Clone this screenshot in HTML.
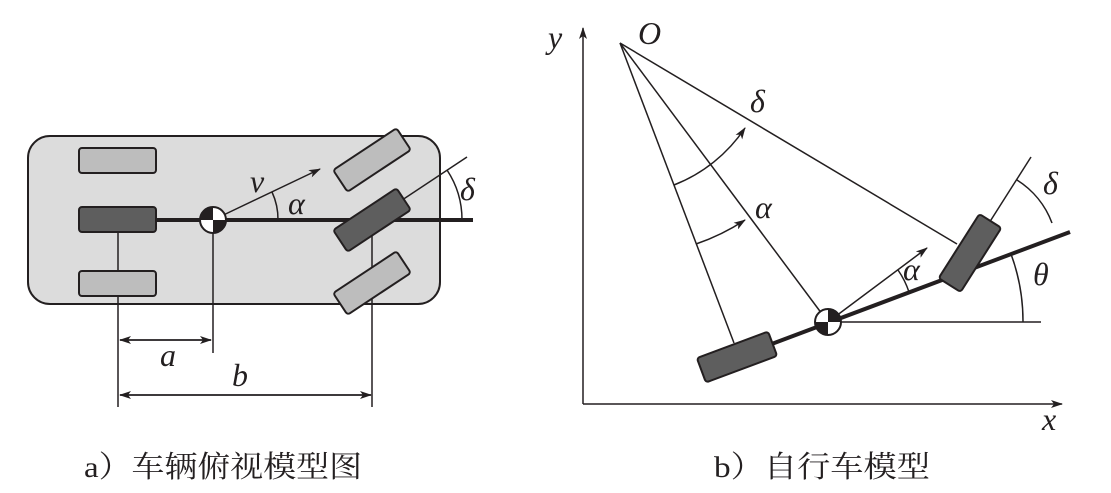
<!DOCTYPE html>
<html><head><meta charset="utf-8"><style>html,body{margin:0;padding:0;background:#fff}svg{display:block}</style></head>
<body>
<svg width="1111" height="493" viewBox="0 0 1111 493" xmlns="http://www.w3.org/2000/svg">
<defs>
<marker id="ar" markerWidth="12" markerHeight="8" refX="11" refY="4" orient="auto" markerUnits="userSpaceOnUse">
<path d="M0,0 L12,4 L0,8 L3,4 Z" fill="#231f20"/></marker>
</defs>
<g stroke="#231f20" fill="none" stroke-width="1.5">
<!-- LEFT -->
<rect x="28" y="136" width="412" height="168" rx="22" fill="#dcdcdc" stroke-width="2"/>
<line x1="118" y1="232" x2="118" y2="407"/>
<line x1="213" y1="220" x2="213" y2="353"/>
<line x1="372" y1="220" x2="372" y2="407"/>
<rect x="79" y="148" width="77" height="25" rx="3" fill="#bdbdbd" stroke-width="2"/>
<rect x="79" y="271" width="77" height="25" rx="3" fill="#bdbdbd" stroke-width="2"/>
<line x1="156" y1="220" x2="473" y2="220" stroke-width="4"/>
<line x1="372" y1="220" x2="467" y2="157"/>
<rect x="79" y="207" width="77" height="25" rx="3" fill="#5e5e5e" stroke-width="2"/>
<g transform="translate(372,160) rotate(-33.5)"><rect x="-38" y="-13" width="76" height="26" rx="3" fill="#bdbdbd" stroke-width="2"/></g>
<g transform="translate(372,283) rotate(-33.5)"><rect x="-38" y="-13" width="76" height="26" rx="3" fill="#bdbdbd" stroke-width="2"/></g>
<g transform="translate(372,220) rotate(-33.5)"><rect x="-38" y="-13" width="76" height="26" rx="3" fill="#5e5e5e" stroke-width="2"/></g>
<line x1="213" y1="220" x2="320" y2="169" marker-end="url(#ar)"/>
<path d="M278,220 A65,65 0 0 0 272,192"/>
<path d="M462,220 A90,90 0 0 0 447,170"/>
<circle cx="213" cy="220" r="13" fill="#fff" stroke-width="2"/>
<path d="M213,220 L213,207 A13,13 0 0 0 200,220 Z M213,220 L226,220 A13,13 0 0 1 213,233 Z" fill="#231f20" stroke="none"/>
<line x1="120" y1="340" x2="211" y2="340" marker-end="url(#ar)"/>
<line x1="211" y1="340" x2="120" y2="340" marker-end="url(#ar)"/>
<line x1="120" y1="395" x2="371" y2="395" marker-end="url(#ar)"/>
<line x1="371" y1="395" x2="120" y2="395" marker-end="url(#ar)"/>
<!-- RIGHT -->
<line x1="583" y1="404" x2="583" y2="28" marker-end="url(#ar)"/>
<line x1="583" y1="404" x2="1062" y2="404" marker-end="url(#ar)"/>
<line x1="620" y1="43" x2="734" y2="343"/>
<line x1="620" y1="43" x2="828" y2="322"/>
<line x1="620" y1="43" x2="957" y2="244"/>
<line x1="828" y1="322" x2="1041" y2="322"/>
<line x1="737" y1="357" x2="1070" y2="232" stroke-width="4"/>
<line x1="970" y1="253" x2="1031" y2="157"/>
<path d="M674,185 A152,152 0 0 0 745,128" marker-end="url(#ar)"/>
<path d="M696,244 A215,215 0 0 0 745,220" marker-end="url(#ar)"/>
<path d="M1023,322 A195,195 0 0 0 1011,254"/>
<path d="M909,292 A87,87 0 0 0 898,270"/>
<path d="M1052,223 A87,87 0 0 0 1017,180"/>
<line x1="828" y1="322" x2="927" y2="248" marker-end="url(#ar)"/>
<g transform="translate(737,357) rotate(-20.4)"><rect x="-38" y="-13" width="76" height="26" rx="3" fill="#5e5e5e" stroke-width="2"/></g>
<g transform="translate(970,253) rotate(-57.6)"><rect x="-38" y="-13" width="76" height="26" rx="3" fill="#5e5e5e" stroke-width="2"/></g>
<circle cx="828" cy="322" r="13" fill="#fff" stroke-width="2"/>
<path d="M828,322 L828,309 A13,13 0 0 1 841,322 Z M828,322 L815,322 A13,13 0 0 0 828,335 Z" fill="#231f20" stroke="none"/>
</g>
<g font-family="Liberation Serif, serif" font-style="italic" fill="#231f20" font-size="32">
<text x="250" y="192">v</text>
<text x="288" y="214">α</text>
<text x="460" y="200">δ</text>
<text x="160" y="366">a</text>
<text x="232" y="386">b</text>
<text x="548" y="48">y</text>
<text x="638" y="44">O</text>
<text x="1042" y="430">x</text>
<text x="750" y="112">δ</text>
<text x="755" y="218">α</text>
<text x="903" y="280">α</text>
<text x="1043" y="194">δ</text>
<text x="1033" y="285">θ</text>
</g>
<g font-family="Liberation Serif, 'Noto Serif CJK SC', serif" fill="#231f20" font-size="30">
<text x="84" y="477" textLength="278" lengthAdjust="spacingAndGlyphs">a）车辆俯视模型图</text>
<text x="714" y="477" textLength="216" lengthAdjust="spacingAndGlyphs">b）自行车模型</text>
</g>
</svg>
</body></html>
